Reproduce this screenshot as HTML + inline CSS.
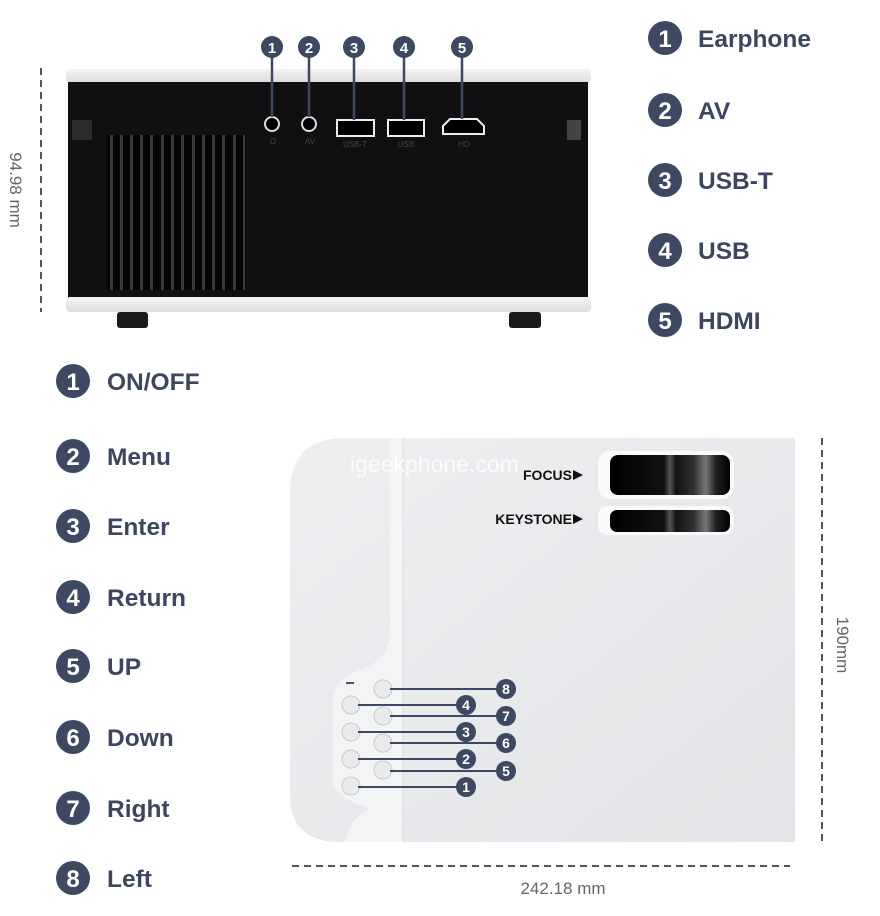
<!DOCTYPE html>
<html><head><meta charset="utf-8"><style>
html,body{margin:0;padding:0;background:#fff;}
svg{display:block;}
text{font-family:"Liberation Sans",sans-serif;}
</style></head><body>
<svg width="880" height="916" viewBox="0 0 880 916" xmlns="http://www.w3.org/2000/svg">
<defs>
<linearGradient id="bg" x1="0" y1="0" x2="1" y2="1">
<stop offset="0" stop-color="#eeeff1"/><stop offset="1" stop-color="#e2e4e7"/>
</linearGradient>
<linearGradient id="wb" x1="0" y1="0" x2="0" y2="1">
<stop offset="0" stop-color="#f4f4f4"/><stop offset="1" stop-color="#dcdcdc"/>
</linearGradient>
<linearGradient id="lens" x1="0" y1="0" x2="1" y2="0">
<stop offset="0" stop-color="#000"/><stop offset="0.45" stop-color="#111"/><stop offset="0.5" stop-color="#555"/><stop offset="0.55" stop-color="#111"/><stop offset="0.7" stop-color="#333"/><stop offset="0.8" stop-color="#777"/><stop offset="0.88" stop-color="#222"/><stop offset="1" stop-color="#000"/>
</linearGradient>
</defs>
<!-- TOP PROJECTOR -->
<line x1="41" y1="68" x2="41" y2="312" stroke="#555" stroke-width="2" stroke-dasharray="7,5"/>
<text transform="translate(10,190) rotate(90)" font-size="17" fill="#666" text-anchor="middle">94.98 mm</text>
<rect x="66" y="69" width="525" height="14" rx="4" fill="url(#wb)"/>
<rect x="68" y="82" width="520" height="216" fill="#101012"/>
<rect x="66" y="297" width="525" height="15" rx="4" fill="url(#wb)"/>
<rect x="117" y="312" width="31" height="16" rx="3" fill="#1a1a1a"/>
<rect x="509" y="312" width="32" height="16" rx="3" fill="#1a1a1a"/>
<rect x="72" y="120" width="20" height="20" fill="#2c2c2c"/>
<rect x="567" y="120" width="14" height="20" fill="#444"/>
<rect x="107" y="135" width="138" height="155" fill="#050505"/>
<g fill="#3a3a3c">
<rect x="110" y="135" width="3" height="155"/><rect x="120" y="135" width="3" height="155"/><rect x="130" y="135" width="3" height="155"/><rect x="140" y="135" width="3" height="155"/><rect x="150" y="135" width="3" height="155"/><rect x="161" y="135" width="3" height="155"/><rect x="171" y="135" width="3" height="155"/><rect x="181" y="135" width="3" height="155"/><rect x="192" y="135" width="3" height="155"/><rect x="202" y="135" width="3" height="155"/><rect x="212" y="135" width="3" height="155"/><rect x="222" y="135" width="3" height="155"/><rect x="233" y="135" width="3" height="155"/><rect x="243" y="135" width="2" height="155"/>
</g>
<circle cx="272" cy="124" r="7" fill="#000" stroke="#ddd" stroke-width="2"/>
<circle cx="309" cy="124" r="7" fill="#000" stroke="#ddd" stroke-width="2"/>
<rect x="337" y="120" width="37" height="16" fill="#000" stroke="#eee" stroke-width="2"/>
<rect x="388" y="120" width="36" height="16" fill="#000" stroke="#eee" stroke-width="2"/>
<path d="M443,126 L450,119 L477,119 L484,126 L484,134 L443,134 Z" fill="#000" stroke="#eee" stroke-width="2"/>
<g font-size="8" fill="#444" text-anchor="middle"><text x="273" y="144">Ω</text><text x="310" y="144">AV</text><text x="355" y="147">USB-T</text><text x="406" y="147">USB</text><text x="464" y="147">HD</text></g>
<g stroke="#3d4862" stroke-width="2.5">
<line x1="272" y1="47" x2="272" y2="117"/><line x1="309" y1="47" x2="309" y2="117"/><line x1="354" y1="47" x2="354" y2="120"/><line x1="404" y1="47" x2="404" y2="120"/><line x1="462" y1="47" x2="462" y2="119"/>
</g>
<g fill="#3d4862"><circle cx="272" cy="47" r="11"/><circle cx="309" cy="47" r="11"/><circle cx="354" cy="47" r="11"/><circle cx="404" cy="47" r="11"/><circle cx="462" cy="47" r="11"/></g>
<g fill="#fff" font-size="15" font-weight="bold" text-anchor="middle"><text x="272" y="53">1</text><text x="309" y="53">2</text><text x="354" y="53">3</text><text x="404" y="53">4</text><text x="462" y="53">5</text></g>
<!-- RIGHT LIST -->
<g fill="#3d4862"><circle cx="665" cy="38" r="17"/><circle cx="665" cy="110" r="17"/><circle cx="665" cy="180" r="17"/><circle cx="665" cy="250" r="17"/><circle cx="665" cy="320" r="17"/></g>
<g fill="#fff" font-size="24" font-weight="bold" text-anchor="middle"><text x="665" y="47">1</text><text x="665" y="119">2</text><text x="665" y="189">3</text><text x="665" y="259">4</text><text x="665" y="329">5</text></g>
<g fill="#3d4660" font-size="24.5" font-weight="bold"><text x="698" y="47">Earphone</text><text x="698" y="119">AV</text><text x="698" y="189">USB-T</text><text x="698" y="259">USB</text><text x="698" y="329">HDMI</text></g>
<!-- LEFT LIST -->
<g fill="#3d4862"><circle cx="73" cy="381" r="17"/><circle cx="73" cy="456" r="17"/><circle cx="73" cy="526" r="17"/><circle cx="73" cy="597" r="17"/><circle cx="73" cy="666" r="17"/><circle cx="73" cy="737" r="17"/><circle cx="73" cy="808" r="17"/><circle cx="73" cy="878" r="17"/></g>
<g fill="#fff" font-size="24" font-weight="bold" text-anchor="middle"><text x="73" y="390">1</text><text x="73" y="465">2</text><text x="73" y="535">3</text><text x="73" y="606">4</text><text x="73" y="675">5</text><text x="73" y="746">6</text><text x="73" y="817">7</text><text x="73" y="887">8</text></g>
<g fill="#3d4660" font-size="24.5" font-weight="bold"><text x="107" y="390">ON/OFF</text><text x="107" y="465">Menu</text><text x="107" y="535">Enter</text><text x="107" y="606">Return</text><text x="107" y="675">UP</text><text x="107" y="746">Down</text><text x="107" y="817">Right</text><text x="107" y="887">Left</text></g>
<!-- BOTTOM PROJECTOR -->
<path d="M345,438 L795,438 L795,842 L340,842 Q290,842 290,795 L290,493 Q290,438 345,438 Z" fill="url(#bg)"/>
<rect x="390" y="438" width="13" height="404" fill="#f5f5f6"/>
<path d="M390,630 L403,630 L403,842 L345,842 Q348,820 370,808 Q340,800 333,785 L333,700 Q333,680 360,670 Q390,660 390,630 Z" fill="#f3f4f5"/>
<line x1="403" y1="438" x2="403" y2="842" stroke="#dcdde0" stroke-width="1"/>
<rect x="346" y="682" width="8" height="2" fill="#555"/>
<text x="350" y="472" font-size="23" fill="#fff" opacity="0.85">igeekphone.com</text>
<rect x="598" y="451" width="136" height="48" rx="12" fill="#fafafa"/>
<rect x="610" y="455" width="120" height="40" rx="8" fill="url(#lens)"/>
<rect x="598" y="506" width="136" height="29" rx="10" fill="#fafafa"/>
<rect x="610" y="510" width="120" height="22" rx="7" fill="url(#lens)"/>
<g font-size="14" font-weight="bold" fill="#111" text-anchor="end"><text x="572" y="480">FOCUS</text><text x="572" y="524">KEYSTONE</text></g>
<path d="M573,470 L583,475 L573,480 Z M573,514 L583,519 L573,524 Z" fill="#111"/>
<g fill="#eaeaea" stroke="#c9c9c9" stroke-width="1"><circle cx="351" cy="705" r="9"/><circle cx="351" cy="732" r="9"/><circle cx="351" cy="759" r="9"/><circle cx="351" cy="786" r="9"/><circle cx="383" cy="689" r="9"/><circle cx="383" cy="716" r="9"/><circle cx="383" cy="743" r="9"/><circle cx="383" cy="770" r="9"/></g>
<g stroke="#3d4862" stroke-width="2"><line x1="358" y1="705" x2="465" y2="705"/><line x1="358" y1="732" x2="465" y2="732"/><line x1="358" y1="759" x2="465" y2="759"/><line x1="358" y1="787" x2="465" y2="787"/><line x1="390" y1="689" x2="505" y2="689"/><line x1="390" y1="716" x2="505" y2="716"/><line x1="390" y1="743" x2="505" y2="743"/><line x1="390" y1="771" x2="505" y2="771"/></g>
<g fill="#3d4862"><circle cx="466" cy="705" r="10"/><circle cx="466" cy="732" r="10"/><circle cx="466" cy="759" r="10"/><circle cx="466" cy="787" r="10"/><circle cx="506" cy="689" r="10"/><circle cx="506" cy="716" r="10"/><circle cx="506" cy="743" r="10"/><circle cx="506" cy="771" r="10"/></g>
<g fill="#fff" font-size="14" font-weight="bold" text-anchor="middle"><text x="466" y="710">4</text><text x="466" y="737">3</text><text x="466" y="764">2</text><text x="466" y="792">1</text><text x="506" y="694">8</text><text x="506" y="721">7</text><text x="506" y="748">6</text><text x="506" y="776">5</text></g>
<line x1="822" y1="438" x2="822" y2="842" stroke="#555" stroke-width="2" stroke-dasharray="7,5"/>
<text transform="translate(837,645) rotate(90)" font-size="17" fill="#666" text-anchor="middle">190mm</text>
<line x1="292" y1="866" x2="790" y2="866" stroke="#555" stroke-width="2" stroke-dasharray="7,5"/>
<text x="563" y="894" font-size="17" fill="#666" text-anchor="middle">242.18 mm</text>
</svg>
</body></html>
